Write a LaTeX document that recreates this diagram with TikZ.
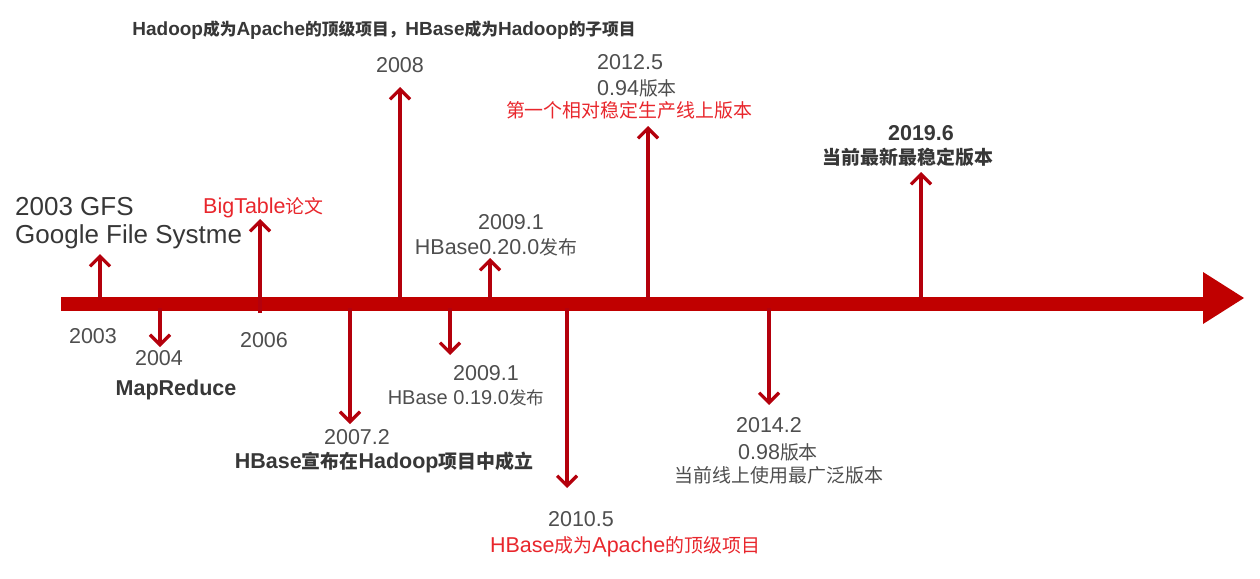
\documentclass[tikz,border=0pt]{standalone}
\usepackage{fontspec}
\setmainfont{Liberation Sans}
\newfontfamily\cjk{Noto Sans CJK SC}[Scale=0.88]
\newcommand{\zh}[1]{{\cjk #1}}
\usetikzlibrary{arrows.meta,positioning}
\definecolor{barred}{RGB}{192,0,0}
\definecolor{arrred}{RGB}{180,0,12}
\definecolor{txtgray}{RGB}{78,78,78}
\definecolor{txtdark}{RGB}{55,55,55}
\definecolor{txtred}{RGB}{232,38,44}
\tikzset{
  lbl/.style={text=txtgray, inner sep=0pt, font=\fontsize{21.5}{25}\selectfont},
  lblb/.style={lbl, text=txtdark, font=\fontsize{21.5}{25}\selectfont\bfseries},
  lblr/.style={lbl, text=txtred},
  evt/.style={draw=arrred, line width=3.2pt, -{Straight Barb[length=10pt,width=20pt]}},
}

\begin{document}
\begin{tikzpicture}[x=1pt,y=-1pt]
\useasboundingbox (0,0) rectangle (1260,578);
% time axis
\coordinate (axstart) at (61,304);
\coordinate (axend) at (1204,304);
\draw[barred, line width=14pt] (axstart) -- (axend);
\fill[barred] (1203,272) -- (1244,298) -- (1203,324) -- cycle;

% points on the axis and arrow tips
\coordinate (b2003) at (100,300);  \coordinate (t2003) at (100,254);
\coordinate (b2006) at (260,313);  \coordinate (t2006) at (260,219);
\coordinate (b2008) at (400,300);  \coordinate (t2008) at (400,87);
\coordinate (b2009u) at (490,300); \coordinate (t2009u) at (490,258);
\coordinate (b2012) at (648,300);  \coordinate (t2012) at (648,126);
\coordinate (b2019) at (921,300);  \coordinate (t2019) at (921,172);
\coordinate (b2004) at (160,308);  \coordinate (t2004) at (160,347);
\coordinate (b2007) at (350,308);  \coordinate (t2007) at (350,424);
\coordinate (b2009d) at (450,308); \coordinate (t2009d) at (450,355);
\coordinate (b2010) at (567,308);  \coordinate (t2010) at (567,488);
\coordinate (b2014) at (769,308);  \coordinate (t2014) at (769,405);

\foreach \ev in {2003,2006,2008,2009u,2012,2019,2004,2007,2009d,2010,2014}
  \draw[evt] (b\ev) -- (t\ev);

% labels above the axis
\node[lblb, font=\fontsize{19}{22}\selectfont\bfseries] (hadoop) at (384,30) {Hadoop\zh{成为}Apache\zh{的顶级项目，}HBase\zh{成为}Hadoop\zh{的子项目}};
\node[lbl] (y2008) at (400,65) {2008};
\node[lbl, anchor=west] (y2012) at (597,62) {2012.5};
\node[lbl, anchor=west] (v094) at (597,88) {0.94\zh{版本}};
\node[lblr] (n2012) at (629,110) {\zh{第一个相对稳定生产线上版本}};
\node[lblb] (y2019) at (921,133) {2019.6};
\node[lblb] (n2019) at (908,157) {\zh{当前最新最稳定版本}};
\node[lbl, text=txtdark, anchor=west, font=\fontsize{26}{30}\selectfont] (gfs) at (15,207) {2003 GFS};
\node[lbl, text=txtdark, anchor=west, font=\fontsize{26}{30}\selectfont] (gfsname) at (15,237) {Google File Systme};
\node[lblr, anchor=west] (bigtable) at (203,208) {BigTable\zh{论文}};
\node[lbl] (y2009u) at (511,222) {2009.1};
\node[lbl] (n2009u) at (496,247) {HBase0.20.0\zh{发布}};

% labels below the axis
\node[lbl] (y2003) at (93,336) {2003};
\node[lbl] (y2006) at (264,340) {2006};
\node[lbl] (y2004) at (159,358) {2004};
\node[lblb] (mapred) at (176,390) {MapReduce};
\node[lbl] (y2007) at (357,437) {2007.2};
\node[lblb] (n2007) at (384,462) {HBase\zh{宣布在}Hadoop\zh{项目中成立}};
\node[lbl] (y2009d) at (486,373) {2009.1};
\node[lbl, font=\fontsize{20}{24}\selectfont] (n2009d) at (466,398) {HBase 0.19.0\zh{发布}};
\node[lbl] (y2010) at (581,519) {2010.5};
\node[lblr] (n2010) at (625,547) {HBase\zh{成为}Apache\zh{的顶级项目}};
\node[lbl] (y2014) at (769,425) {2014.2};
\node[lbl] (v098) at (778,452) {0.98\zh{版本}};
\node[lbl] (n2014) at (779,475) {\zh{当前线上使用最广泛版本}};
\end{tikzpicture}
\end{document}
